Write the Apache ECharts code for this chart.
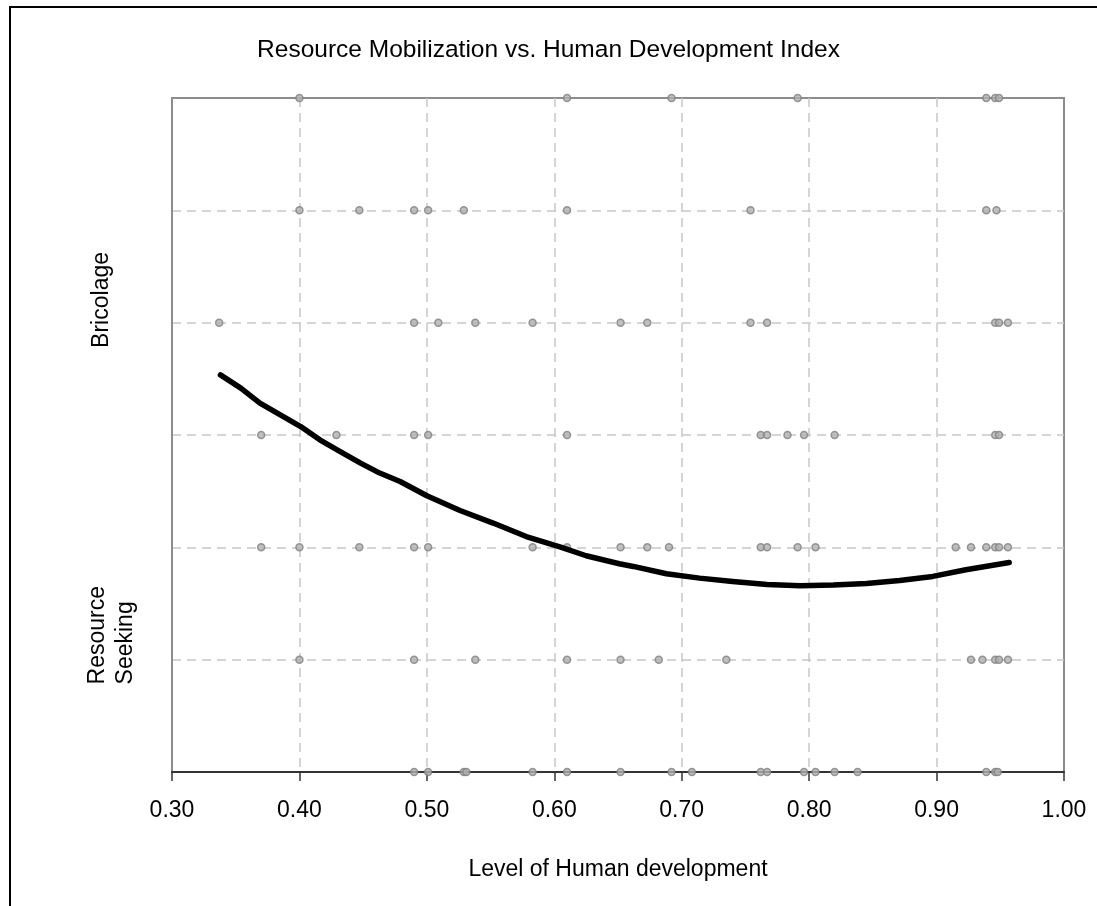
<!DOCTYPE html>
<html>
<head>
<meta charset="utf-8">
<title>Resource Mobilization vs. Human Development Index</title>
<script src="https://cdn.jsdelivr.net/npm/echarts@6/dist/echarts.min.js"></script>
<style>
  html, body { margin: 0; padding: 0; background: #fff; }
  #chart { width: 1097px; height: 906px; }
</style>
</head>
<body>
<div id="chart"></div>
<script>
// HDI values of the observations, one list per answer level (1 = resource seeking ... 7 = bricolage)
const level7 = [0.400, 0.610, 0.692, 0.791, 0.939, 0.946, 0.949];
const level6 = [0.400, 0.447, 0.490, 0.501, 0.529, 0.610, 0.754, 0.939, 0.947];
const level5 = [0.337, 0.490, 0.509, 0.538, 0.583, 0.652, 0.673, 0.754, 0.767, 0.946, 0.949, 0.956];
const level4 = [0.370, 0.429, 0.490, 0.501, 0.610, 0.762, 0.767, 0.783, 0.796, 0.820, 0.946, 0.949];
const level3 = [0.370, 0.400, 0.447, 0.490, 0.501, 0.583, 0.610, 0.652, 0.673, 0.690, 0.762, 0.767,
                0.791, 0.805, 0.915, 0.927, 0.939, 0.946, 0.949, 0.956];
const level2 = [0.400, 0.490, 0.538, 0.610, 0.652, 0.682, 0.735, 0.927, 0.936, 0.946, 0.949, 0.956];
const level1 = [0.490, 0.501, 0.529, 0.531, 0.583, 0.610, 0.652, 0.692, 0.708, 0.762, 0.767, 0.796,
                0.805, 0.820, 0.838, 0.939, 0.946, 0.948];

// fitted trend curve
const trendX = [0.338, 0.354, 0.369, 0.385, 0.401, 0.416, 0.432, 0.448, 0.463, 0.479, 0.500,
                0.526, 0.552, 0.578, 0.605, 0.625, 0.651, 0.662, 0.688, 0.714, 0.740, 0.767,
                0.793, 0.819, 0.845, 0.871, 0.897, 0.923, 0.950, 0.957];
const trendY = [4.535, 4.417, 4.283, 4.179, 4.075, 3.957, 3.853, 3.750, 3.661, 3.586, 3.459,
                3.328, 3.216, 3.096, 3.002, 2.925, 2.854, 2.830, 2.765, 2.726, 2.696, 2.669,
                2.658, 2.664, 2.678, 2.705, 2.741, 2.800, 2.851, 2.865];

const xTicks = ['0.30', '0.40', '0.50', '0.60', '0.70', '0.80', '0.90', '1.00'];

const levels = [level1, level2, level3, level4, level5, level6, level7];
const points = [];
levels.forEach((xs, i) => xs.forEach((x) => points.push([x, i + 1])));

const FONT = '"Liberation Sans", Arial, sans-serif';
const GRID_LINE = { color: '#c8c8c8', width: 1.5, type: [9, 6] };
const chart = echarts.init(document.getElementById('chart'), null, { renderer: 'canvas' });

chart.setOption({
  animation: false,
  backgroundColor: '#fff',
  textStyle: { fontFamily: FONT },
  title: {
    text: 'Resource Mobilization vs. Human Development Index',
    left: 'center',
    top: 33,
    textStyle: { fontFamily: FONT, fontSize: 24.5, fontWeight: 'normal', color: '#000' },
  },
  grid: {
    left: 172, right: 33, top: 98, bottom: 134,
    show: true, borderColor: '#8c8c8c', borderWidth: 2, backgroundColor: '#fff',
  },
  xAxis: {
    type: 'value',
    min: 0.3, max: 1.0, interval: 0.1,
    name: 'Level of Human development',
    nameLocation: 'middle',
    nameGap: 86,
    nameTextStyle: { fontFamily: FONT, fontSize: 23, color: '#000' },
    axisLine: { show: true, onZero: false, lineStyle: { color: '#333', width: 2 } },
    axisTick: { show: true, length: 9, lineStyle: { color: '#333', width: 1.5 } },
    axisLabel: {
      margin: 27, fontFamily: FONT, fontSize: 23, color: '#000',
      formatter: (v) => xTicks[Math.round((v - 0.3) * 10)],
    },
    splitLine: { show: true, showMinLine: false, showMaxLine: false, lineStyle: GRID_LINE },
  },
  yAxis: {
    type: 'value',
    min: 1, max: 7, interval: 1,
    axisLine: { show: true, lineStyle: { color: '#8c8c8c', width: 2 } },
    axisTick: { show: false },
    axisLabel: { show: false },
    splitLine: { show: true, showMinLine: false, showMaxLine: false, lineStyle: GRID_LINE },
  },
  graphic: [
    {
      type: 'polyline', silent: true, z: 100,
      shape: { points: [[10, 906], [10, 7], [1097, 7]] },
      style: { stroke: '#000', lineWidth: 2, fill: null },
    },
    {
      type: 'text', left: 90, top: 252, rotation: Math.PI / 2, silent: true,
      style: { text: 'Bricolage', font: '23px ' + FONT, fill: '#000' },
    },
    {
      type: 'text', left: 84, top: 586, rotation: Math.PI / 2, silent: true,
      style: { text: 'Resource\nSeeking', font: '23px ' + FONT, fill: '#000', align: 'center', lineHeight: 28 },
    },
  ],
  series: [
    {
      type: 'scatter',
      data: points,
      symbol: 'circle',
      symbolSize: 7,
      clip: false,
      itemStyle: { color: '#b0b0b0', borderColor: '#7f7f7f', borderWidth: 1.5 },
      z: 3,
    },
    {
      type: 'line',
      data: trendX.map((x, i) => [x, trendY[i]]),
      showSymbol: false,
      symbol: 'none',
      smooth: false,
      lineStyle: { color: '#000', width: 5.5, cap: 'round', join: 'round' },
      z: 4,
    },
  ],
});
</script>
</body>
</html>
